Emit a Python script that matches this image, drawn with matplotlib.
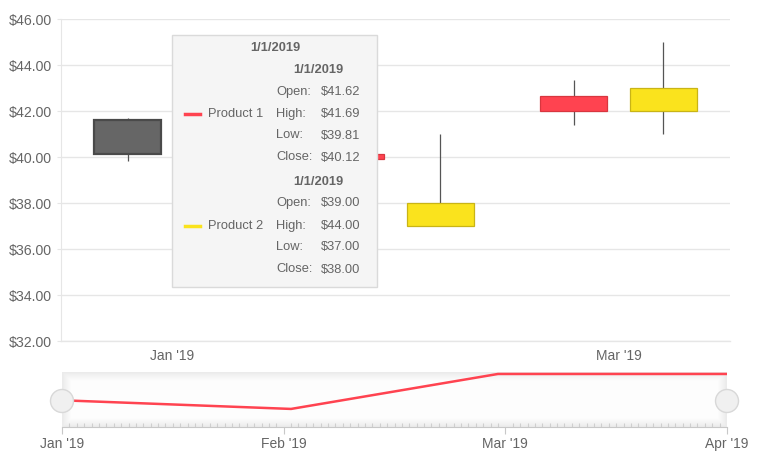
import matplotlib

matplotlib.use("Agg")
import matplotlib.pyplot as plt
import numpy as np
from matplotlib.patches import Rectangle, Ellipse

plt.rcParams["font.family"] = ["Liberation Sans", "DejaVu Sans"]

# ---- data -----------------------------------------------------------------
categories = ["Jan '19", "Feb '19", "Mar '19"]
category_labels = ["Jan '19", "", "Mar '19"]

p1_open = [41.62, 40.12, 42.00]
p1_high = [41.69, 40.25, 43.33]
p1_low = [39.81, 39.75, 41.38]
p1_close = [40.12, 39.90, 42.64]

p2_open = [39.00, 37.00, 42.00]
p2_high = [44.00, 41.00, 45.00]
p2_low = [37.00, 37.00, 41.00]
p2_close = [38.00, 38.00, 43.00]

y_ticks = [32, 34, 36, 38, 40, 42, 44, 46]

nav_days = [0, 31, 59, 90]
nav_values = [40.12, 39.90, 40.79, 40.79]
nav_tick_days = [0, 30, 60, 90]
nav_tick_labels = ["Jan '19", "Feb '19", "Mar '19", "Apr '19"]

tooltip_title = "1/1/2019"
tooltip_series = [
    ("Product 1", "1/1/2019", [("Open:", "$41.62"), ("High:", "$41.69"),
                               ("Low:", "$39.81"), ("Close:", "$40.12")]),
    ("Product 2", "1/1/2019", [("Open:", "$39.00"), ("High:", "$44.00"),
                               ("Low:", "$37.00"), ("Close:", "$38.00")]),
]

RED = "#ff4350"
RED_EDGE = "#d8363f"
YELLOW = "#fae31d"
YELLOW_EDGE = "#c9b416"
TEXT = "#656565"
GRID = "#e6e6e6"

W, H = 767, 470
fig = plt.figure(figsize=(W / 100, H / 100), dpi=100)


def fx(px):
    return px / W


def fy(py):
    return 1 - py / H


# ---- main candlestick chart -------------------------------------------------
ax = fig.add_axes([fx(61), fy(341), fx(730) - fx(61), fy(19) - fy(341)])
x = np.arange(len(categories))
series = [
    (p1_open, p1_high, p1_low, p1_close, -0.2, RED, RED_EDGE),
    (p2_open, p2_high, p2_low, p2_close, 0.2, YELLOW, YELLOW_EDGE),
]
for k, (o, h, l, c, off, col, edge) in enumerate(series):
    for i in range(len(categories)):
        fc, ec, lw = col, edge, 0.9
        if k == 0 and i == 0:  # hovered point
            fc, ec, lw = "#666666", "#4a4a4a", 1.6
        ax.vlines(x[i] + off, l[i], h[i], color="#555555", lw=0.9, zorder=2)
        ax.bar(x[i] + off, abs(c[i] - o[i]), bottom=min(o[i], c[i]), width=0.3,
               color=fc, edgecolor=ec, linewidth=lw, zorder=3)

ax.set_xlim(-0.5, len(categories) - 0.5)
ax.set_ylim(32, 46)
ax.set_yticks(y_ticks)
ax.set_yticklabels([f"${v:.2f}" for v in y_ticks])
ax.set_xticks(x)
ax.set_xticklabels(category_labels)
ax.grid(axis="y", color=GRID, linewidth=1)
ax.axhline(32, color=GRID, linewidth=1, clip_on=False, zorder=0)
ax.set_axisbelow(True)
for s in ["top", "right", "bottom"]:
    ax.spines[s].set_visible(False)
ax.spines["left"].set_color(GRID)
ax.tick_params(axis="y", colors=GRID, labelcolor=TEXT, labelsize=10.2, length=3, pad=3.5)
ax.tick_params(axis="x", length=0, labelcolor=TEXT, labelsize=10, pad=5.5)

# ---- tooltip ------------------------------------------------------------------
tip = Rectangle((fx(172), fy(287)), fx(377) - fx(172), fy(35) - fy(287),
                transform=fig.transFigure, facecolor="#f5f5f5", edgecolor="#dadada",
                linewidth=1, zorder=10)
fig.patches.append(tip)
fig.text(fx(275), fy(48), tooltip_title, ha="center", va="center", fontsize=9.3,
         fontweight="bold", color=TEXT, zorder=11)
sw_colors = [RED, YELLOW]
for j, (name, sub, rows) in enumerate(tooltip_series):
    y0 = 70 + j * 112
    fig.text(fx(318), fy(y0), sub, ha="center", va="center", fontsize=9.3,
             fontweight="bold", color=TEXT, zorder=11)
    for r, (lab, val) in enumerate(rows):
        yy = y0 + 21.5 + r * 22
        fig.text(fx(276), fy(yy), lab, ha="left", va="center", fontsize=9.3, color=TEXT, zorder=11)
        fig.text(fx(321), fy(yy), val, ha="left", va="center", fontsize=9.3, color=TEXT, zorder=11)
    ymid = y0 + 44
    fig.lines.append(plt.Line2D([fx(185), fx(200)], [fy(ymid), fy(ymid)],
                                transform=fig.transFigure, color=sw_colors[j], lw=2.5, zorder=11))
    fig.text(fx(208), fy(ymid), name, ha="left", va="center", fontsize=9.3, color=TEXT, zorder=11)

# ---- navigator ----------------------------------------------------------------
nav = fig.add_axes([fx(62), fy(427), fx(727) - fx(62), fy(372) - fy(427)])
nav.set_xlim(0, 90)
nav.set_ylim(39.44, 40.84)

# soft inner shadow along the edges of the selection
grad = np.ones((60, 400, 4))
yy_, xx_ = np.mgrid[0:60, 0:400]
edge_dist = np.minimum.reduce([yy_ / 9.0, (59 - yy_) / 9.0, xx_ / 5.0, (399 - xx_) / 5.0])
grad[..., :3] = 0.84
grad[..., 3] = np.clip(1 - edge_dist, 0, 1) * 0.45
nav.imshow(grad, extent=[0, 90, 39.44, 40.84], aspect="auto", zorder=1,
           interpolation="bilinear")
nav.set_facecolor("#fdfdfd")

nav.plot(nav_days, nav_values, color=RED, lw=1.8, zorder=3, solid_joinstyle="miter")
nav.set_xticks(nav_tick_days)
nav.set_xticklabels(nav_tick_labels)
nav.set_xticks(np.arange(0, 91, 1), minor=True)
nav.set_yticks([])
for s in ["top", "right", "left"]:
    nav.spines[s].set_visible(False)
nav.spines["bottom"].set_color("#c8c8c8")
nav.tick_params(axis="x", which="major", colors="#c8c8c8", labelcolor=TEXT,
                labelsize=10, length=5, direction="out", pad=2.5)
nav.tick_params(axis="x", which="minor", colors="#cfcfcf", length=3, width=0.8,
                direction="in")

for hx in [62, 727]:
    handle = Ellipse((fx(hx), fy(401)), 23 / W, 23 / H, transform=fig.transFigure,
                     facecolor="#f0f0f0", edgecolor="#d8d8d8", linewidth=1, zorder=12)
    fig.patches.append(handle)

fig.savefig("out.png", dpi=100)
